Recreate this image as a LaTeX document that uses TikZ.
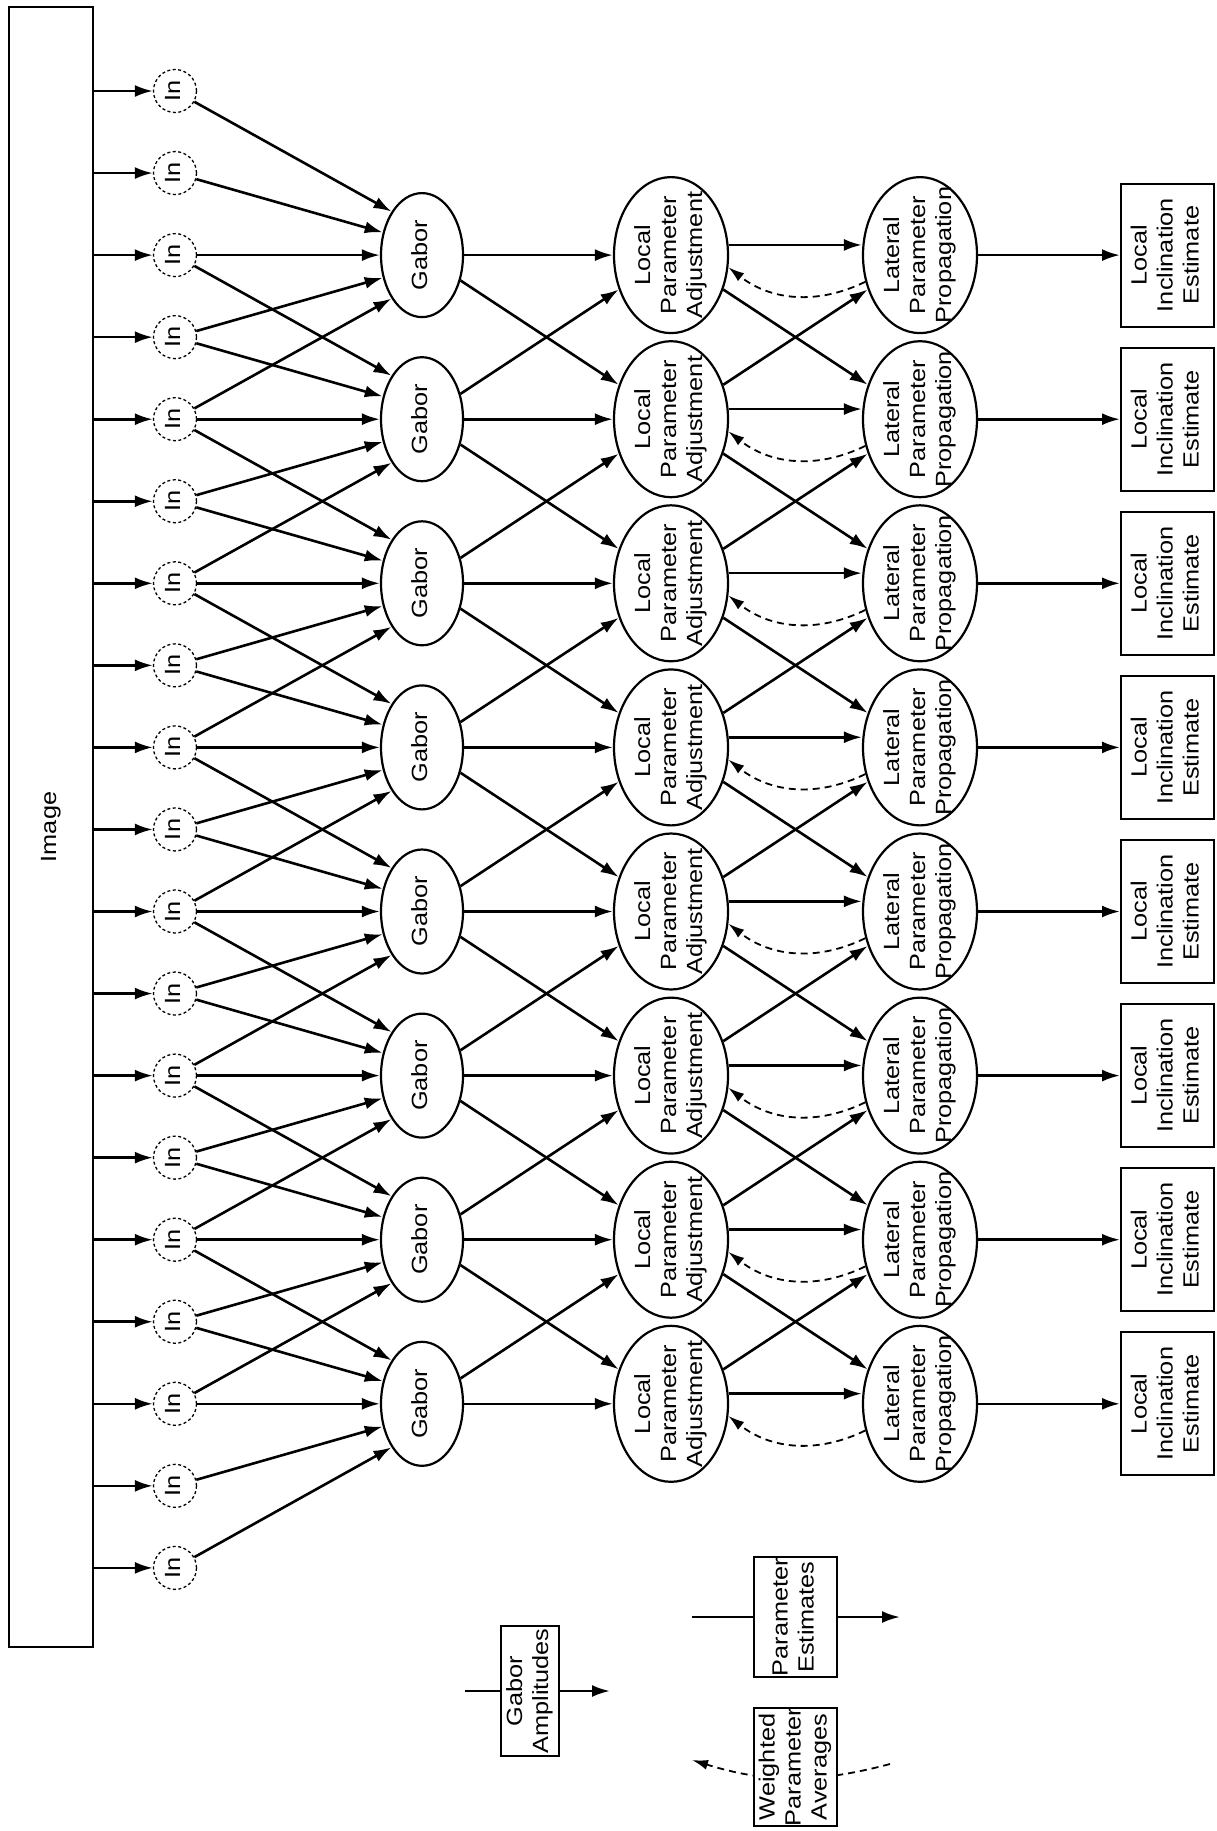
\documentclass[tikz,border=0pt]{standalone}
\usepackage{fontspec}
\setmainfont{Liberation Sans}
\usepackage{graphicx}
\usetikzlibrary{arrows.meta,shapes.geometric}
\newcommand{\rtxt}[1]{\rotatebox{90}{\scalebox{1.15}[1]{\begin{tabular}{@{}c@{}}#1\end{tabular}}}}
\begin{document}
\begin{tikzpicture}[x=1pt,y=1pt,
  every node/.style={font=\fontsize{22}{26}\selectfont, inner sep=0pt},
  conn/.style={line width=2.6pt},
  arr/.style={conn,-{Latex[length=18pt,width=12pt]}},
  fb/.style={line width=1.8pt, dash pattern=on 7pt off 5pt, -{Latex[length=16pt,width=10pt]}},
  incirc/.style={circle, draw, line width=1.3pt, dash pattern=on 3pt off 2.5pt, minimum size=43pt},
  gab/.style={ellipse, draw, line width=2.2pt, minimum width=82pt, minimum height=124pt},
  lpa/.style={ellipse, draw, line width=2.2pt, minimum width=114pt, minimum height=156pt},
  lbox/.style={rectangle, draw, line width=2pt, fill=white},
]
\useasboundingbox (0,0) rectangle (1216,-1831);

% Image box
\node[draw, line width=2pt, minimum width=84pt, minimum height=1640pt] (img) at (51,-827) {\rtxt{Image}};

% In circles
\foreach \i in {0,...,18}{
  \pgfmathsetmacro{\yy}{-(91+82.05*\i)}
  \node[incirc] (in\i) at (175,\yy) {\rtxt{In}};
  \draw[arr] (img.east |- in\i) -- (in\i);
}

% Rows
\foreach \k in {0,...,7}{
  \pgfmathsetmacro{\yy}{-(255.1+164.1*\k)}
  \node[gab] (g\k) at (422,\yy) {};
  \node (gt\k) at (g\k) {\rtxt{Gabor}};
  \node[lpa] (a\k) at (671,\yy) {};
  \node (at\k) at (a\k) {\rtxt{Local\\Parameter\\Adjustment}};
  \node[lpa] (p\k) at (920,\yy) {};
  \node (pt\k) at (p\k) {\rtxt{Lateral\\Parameter\\Propagation}};
  \node[lbox, minimum width=93pt, minimum height=143pt] (e\k) at (1167.5,\yy) {\rtxt{Local\\Inclination\\Estimate}};
}

% In -> Gabor
\foreach \k in {0,...,7}{
  \pgfmathtruncatemacro{\ia}{2*\k}
  \pgfmathtruncatemacro{\ib}{2*\k+1}
  \pgfmathtruncatemacro{\ic}{2*\k+2}
  \pgfmathtruncatemacro{\id}{2*\k+3}
  \pgfmathtruncatemacro{\ie}{2*\k+4}
  \draw[arr] (in\ia) -- (g\k.125);
  \draw[arr] (in\ib) -- (g\k.150);
  \draw[arr] (in\ic) -- (g\k.180);
  \draw[arr] (in\id) -- (g\k.210);
  \draw[arr] (in\ie) -- (g\k.235);
}

% Gabor -> LPA, LPA -> LPP, LPP -> LIE
\foreach \k in {0,...,7}{
  \draw[arr] (g\k) -- (a\k);
  \draw[arr] (a\k.10) -- (a\k.10 -| p\k.west);
  \draw[fb] (p\k.206) to[bend left=32] (a\k.348);
  \draw[arr] (p\k) -- (e\k);
}
\foreach \k in {0,...,6}{
  \pgfmathtruncatemacro{\kn}{\k+1}
  \draw[arr] (g\k) -- (a\kn);
  \draw[arr] (g\kn) -- (a\k);
  \draw[arr] (a\k) -- (p\kn);
  \draw[arr] (a\kn) -- (p\k);
}

% Legend
\coordinate (gaL) at (465,-1691);
\coordinate (gaR) at (610,-1691);
\node[lbox, minimum width=58pt, minimum height=130pt] (ga) at (530,-1691) {\rtxt{Gabor\\Amplitudes}};
\draw[conn] (gaL) -- (ga);
\draw[arr] (ga) -- (gaR);

\coordinate (peL) at (692,-1617);
\coordinate (peR) at (900,-1617);
\node[lbox, minimum width=83pt, minimum height=120pt] (pe) at (795.5,-1617) {\rtxt{Parameter\\Estimates}};
\draw[conn] (peL) -- (pe);
\draw[arr] (pe) -- (peR);

\coordinate (wR) at (890,-1764);
\coordinate (wL) at (692,-1760);
\draw[fb] (wR) to[bend left=16] (wL);
\node[lbox, minimum width=83pt, minimum height=118pt] (wa) at (795.5,-1767) {\rtxt{Weighted\\Parameter\\Averages}};
\end{tikzpicture}
\end{document}
